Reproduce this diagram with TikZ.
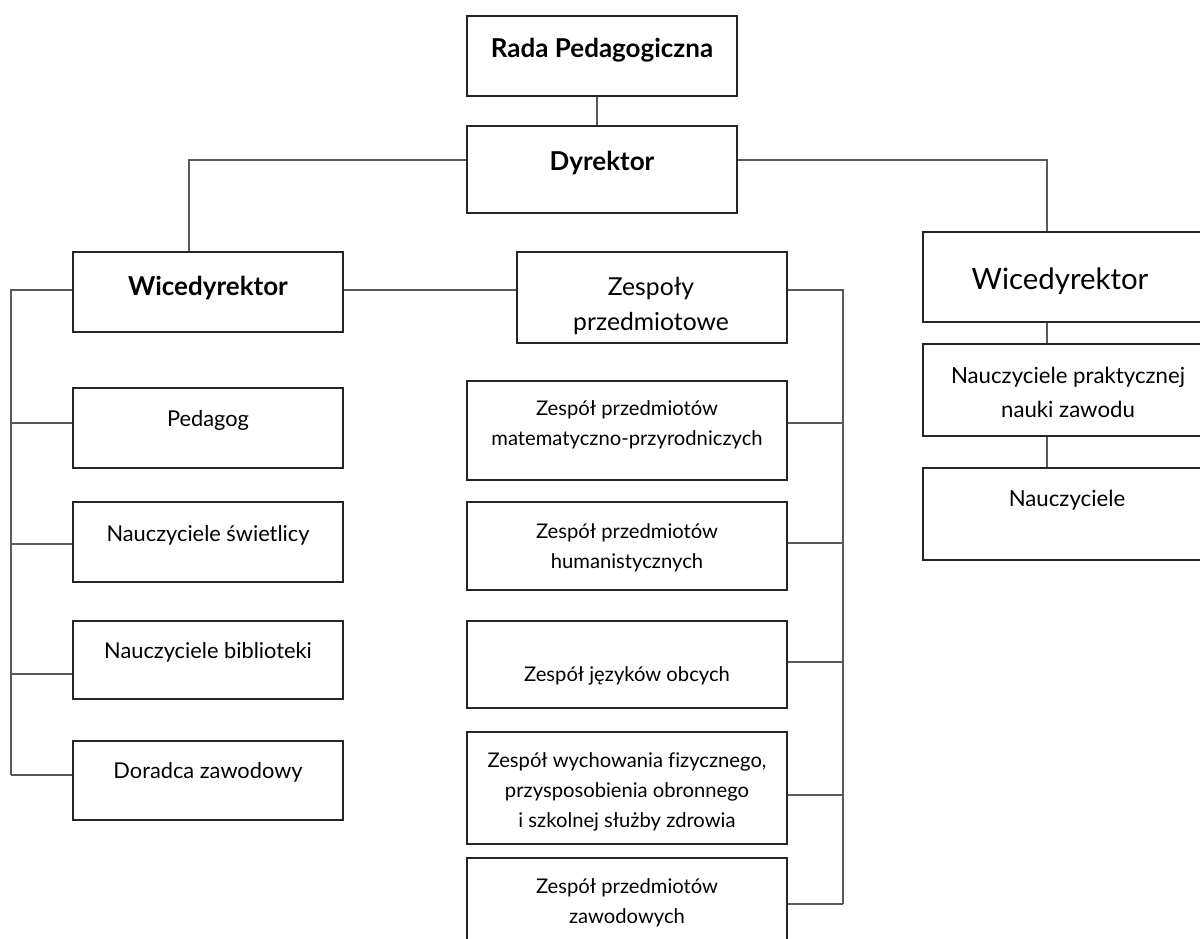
\documentclass[tikz,border=0pt]{standalone}
\usepackage{fontspec}
\setmainfont{Lato}[Ligatures=CommonOff]
\newcommand\mlines[1]{\begin{tabular}[t]{@{}c@{}}#1\end{tabular}}
\begin{document}
\begin{tikzpicture}[x=1pt,y=-1pt,
  box/.style={draw=black!85, line width=1.2pt, rectangle, inner sep=0pt},
  conn/.style={draw=black!65, line width=1.2pt},
  txt/.style={inner sep=0pt, anchor=base, text=black},
  bigb/.style={txt, font=\fontsize{26}{30}\selectfont\bfseries},
  lt/.style={txt, font=\fontsize{21.8}{30}\selectfont},
  mt/.style={txt, font=\fontsize{20.2}{30}\selectfont},
  rt/.style={txt, font=\fontsize{22.2}{34}\selectfont},
  zt/.style={txt, font=\fontsize{24.7}{35}\selectfont},
  rbig/.style={txt, font=\fontsize{29.4}{32}\selectfont}]
\useasboundingbox (0,0) rectangle (1200,938);
\clip (0,0) rectangle (1200,938);

% boxes
\node[box, minimum width=270pt, minimum height=80pt] (rada) at (602,56) {};
\node[box, minimum width=270pt, minimum height=87pt] (dyr) at (602,169.5) {};
\node[box, minimum width=270pt, minimum height=80pt] (lw) at (208,292) {};
\node[box, minimum width=270pt, minimum height=80pt] (ped) at (208,428) {};
\node[box, minimum width=270pt, minimum height=80pt] (sw) at (208,542) {};
\node[box, minimum width=270pt, minimum height=78pt] (bib) at (208,660) {};
\node[box, minimum width=270pt, minimum height=79pt] (dor) at (208,780.5) {};
\node[box, minimum width=270pt, minimum height=91pt] (zp) at (652,297.5) {};
\node[box, minimum width=320pt, minimum height=99pt] (mat) at (627,430.5) {};
\node[box, minimum width=320pt, minimum height=88pt] (hum) at (627,546) {};
\node[box, minimum width=320pt, minimum height=87pt] (jez) at (627,664.5) {};
\node[box, minimum width=320pt, minimum height=112pt] (wych) at (627,788) {};
\node[box, minimum width=320pt, minimum height=92pt] (zaw) at (627,904) {};
\node[box, minimum width=282pt, minimum height=90pt] (rw) at (1064,277) {};
\node[box, minimum width=282pt, minimum height=92pt] (npz) at (1064,390) {};
\node[box, minimum width=282pt, minimum height=92pt] (nau) at (1064,514) {};

% texts
\node[bigb] (radat) at (602,57) {Rada Pedagogiczna};
\node[bigb] (dyrt) at (602,170) {Dyrektor};
\node[bigb] (lwt) at (208,295) {Wicedyrektor};
\node[lt] (pedt) at (208,426) {Pedagog};
\node[lt] (swt) at (208,541) {Nauczyciele świetlicy};
\node[lt] (bibt) at (208,658) {Nauczyciele biblioteki};
\node[lt] (dort) at (208,778) {Doradca zawodowy};
\node[zt] (zpt) at (651,295) {\mlines{Zespoły\\ przedmiotowe}};
\node[mt] (matt) at (627,415) {\mlines{Zespół przedmiotów\\ matematyczno-przyrodniczych}};
\node[mt] (humt) at (627,538) {\mlines{Zespół przedmiotów\\ humanistycznych}};
\node[mt] (jezt) at (627,681) {Zespół języków obcych};
\node[mt] (wycht) at (627,767) {\mlines{Zespół wychowania fizycznego,\\ przysposobienia obronnego\\ i szkolnej służby zdrowia}};
\node[mt] (zawt) at (627,893) {\mlines{Zespół przedmiotów\\ zawodowych}};
\node[rbig] (rwt) at (1060,289) {Wicedyrektor};
\node[rt] (npzt) at (1068,383) {\mlines{Nauczyciele praktycznej\\ nauki zawodu}};
\node[rt] (naut) at (1067,506) {Nauczyciele};

% connectors
\draw[conn] ([xshift=-5pt]rada.south) -- ([xshift=-5pt]dyr.north);
\draw[conn] ([yshift=9.5pt]dyr.west) -| ([xshift=-19pt]lw.north);
\draw[conn] ([yshift=9.5pt]dyr.east) -| ([xshift=-17pt]rw.north);
\draw[conn] ([xshift=-17pt]rw.south) -- ([xshift=-17pt]npz.north);
\draw[conn] ([xshift=-17pt]npz.south) -- ([xshift=-17pt]nau.north);

\coordinate (lbt) at (11,290);
\coordinate (lbb) at (11,775);
\draw[conn] ([yshift=2pt]lw.west) -- (lbt) -- (lbb);
\draw[conn] ([yshift=5pt]ped.west) -- ++(-62,0);
\draw[conn] ([yshift=-2pt]sw.west) -- ++(-62,0);
\draw[conn] ([yshift=-14pt]bib.west) -- ++(-62,0);
\draw[conn] ([yshift=5.5pt]dor.west) -- (lbb);

\draw[conn] ([yshift=2pt]lw.east) -- ([yshift=7.5pt]zp.west);

\coordinate (rbt) at (843,290);
\coordinate (rbb) at (843,904);
\draw[conn] ([yshift=7.5pt]zp.east) -- (rbt) -- (rbb);
\draw[conn] ([yshift=7.5pt]mat.east) -- ++(56,0);
\draw[conn] ([yshift=3pt]hum.east) -- ++(56,0);
\draw[conn] ([yshift=2.5pt]jez.east) -- ++(56,0);
\draw[conn] ([yshift=-7pt]wych.east) -- ++(56,0);
\draw[conn] (zaw.east) -- (rbb);
\end{tikzpicture}
\end{document}
